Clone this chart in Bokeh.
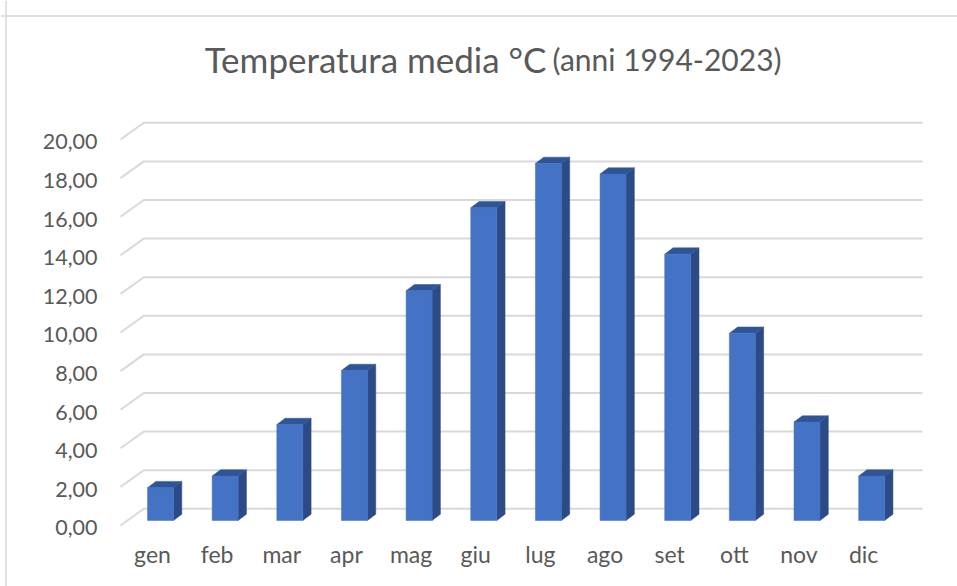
from bokeh.plotting import figure
from bokeh.models import Range1d, Span
from bokeh.embed import file_html
from bokeh.resources import INLINE
from bokeh.core.properties import value

# ---- data ----
months = ["gen", "feb", "mar", "apr", "mag", "giu", "lug", "ago", "set", "ott", "nov", "dic"]
temps = [1.70, 2.30, 4.97, 7.77, 11.90, 16.20, 18.50, 17.95, 13.80, 9.70, 5.10, 2.30]
y_ticks = [0, 2, 4, 6, 8, 10, 12, 14, 16, 18, 20]
y_tick_labels = ["0,00", "2,00", "4,00", "6,00", "8,00", "10,00", "12,00", "14,00", "16,00", "18,00", "20,00"]
title_main = "Temperatura media °C"
title_sub = "(anni 1994-2023)"

# ---- geometry (pixel scale of the pseudo-3D view) ----
W, H = 957, 586
ORG = 0        # page position of the canvas' top-left corner
PX_X = 64.65   # px per category
PX_Y = 19.3    # px per unit
def sx(px):
    return px / PX_X
def sy(px):
    return px / PX_Y

# screen mapping: category 0 -> page x 160 ; value 0 (front plane) -> page y 525
x0 = (ORG - 160) / PX_X
x1 = x0 + W / PX_X
y1 = (525 - ORG) / PX_Y
y0 = y1 - H / PX_Y

TEXT = "#595959"
GRID = "#d9d9d9"
FONT = value("Lato")

p = figure(width=W, height=H, output_backend="svg", toolbar_location=None,
           x_range=Range1d(x0, x1), y_range=Range1d(y0, y1),
           min_border=0, outline_line_color=None)
p.axis.visible = False
p.grid.visible = False
p.background_fill_color = "white"
p.border_fill_color = "white"

# chart border (top and left)
p.add_layout(Span(location=sx(5.5 - 160), dimension="height", line_color=GRID, line_width=1.5))
p.add_layout(Span(location=sy(525 - 15.5), dimension="width", line_color=GRID, line_width=1.5))

# gridlines: slanted floor/wall edge then back wall line
front_x = sx(120 - 160)
back_dx, back_dy = sx(23.3), sy(16.7)
right_x = sx(922 - 160)
gxs = [[front_x, front_x + back_dx, right_x] for t in y_ticks]
gys = [[t, t + back_dy, t + back_dy] for t in y_ticks]
p.multi_line(gxs, gys, line_color=GRID, line_width=2)

# y tick labels
p.text(x=[sx(97 - 160)] * len(y_ticks), y=[t - sy(2.4) for t in y_ticks], text=y_tick_labels,
       text_font=FONT, text_font_size="21.5px", text_color=TEXT,
       text_align="right", text_baseline="alphabetic")

# bars (pseudo 3D)
hw = sx(13)
dx, dy = sx(8.3), sy(6.3)
base = sy(5)
idx = list(range(len(months)))
lefts = [i - hw for i in idx]
rights = [i + hw for i in idx]
tops = [base + v for v in temps]

side_xs = [[r, r + dx, r + dx, r] for r in rights]
side_ys = [[base, base + dy, t + dy, t] for t in tops]
top_xs = [[l, l + dx, r + dx, r] for l, r in zip(lefts, rights)]
top_ys = [[t, t + dy, t + dy, t] for t in tops]

p.patches(side_xs, side_ys, fill_color="#2B4A86", line_color="#2B4A86", line_width=0.5)
p.patches(top_xs, top_ys, fill_color="#2F5597", line_color="#2F5597", line_width=0.5)
p.quad(left=lefts, right=rights, bottom=[base] * len(idx), top=tops,
       fill_color="#4472C4", line_color="#4472C4", line_width=0.5)

# category labels
p.text(x=[i - sx(8) for i in idx], y=[sy(525 - 553)] * len(idx), text=months,
       text_font=FONT, text_font_size="23px", text_color=TEXT,
       text_align="center", text_baseline="alphabetic")

# title
p.text(x=[sx(546 - 160)], y=[sy(525 - 58.5)], text=[title_main],
       text_font=FONT, text_font_size="35px", text_color=TEXT,
       text_align="right", text_baseline="alphabetic")
p.text(x=[sx(552 - 160)], y=[sy(525 - 58.5)], text=[title_sub],
       text_font=FONT, text_font_size="30px", text_color=TEXT,
       text_align="left", text_baseline="alphabetic")

open("out.html", "w").write(file_html(p, INLINE))
